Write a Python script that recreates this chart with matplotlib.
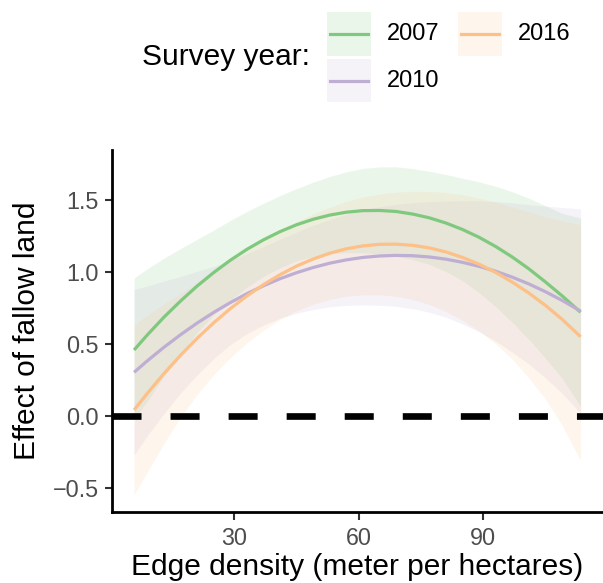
import matplotlib
matplotlib.use("Agg")
import matplotlib.pyplot as plt
from matplotlib.patches import Rectangle
from matplotlib.lines import Line2D

plt.rcParams['font.family'] = ['Liberation Sans', 'DejaVu Sans']
plt.rcParams['lines.scale_dashes'] = False

# edge density grid and predicted effect (fit, lower, upper) per survey year
edge_density = [5.8, 9, 13, 17, 21, 25, 29, 33, 37, 41, 45, 49, 53, 57,
                61, 65, 69, 73, 77, 81, 85, 89, 93, 97, 101, 105, 109, 113.5]

fit_2007 = [0.458, 0.563, 0.686, 0.798, 0.902, 0.996, 1.081, 1.157, 1.223, 1.280,
            1.328, 1.366, 1.395, 1.415, 1.426, 1.427, 1.420, 1.402, 1.376, 1.340,
            1.295, 1.241, 1.177, 1.104, 1.022, 0.931, 0.835, 0.72]
low_2007 = [-0.02, 0.103, 0.276, 0.433, 0.577, 0.701, 0.804, 0.894, 0.969, 1.029,
            1.077, 1.108, 1.127, 1.134, 1.133, 1.124, 1.109, 1.086, 1.053, 1.003,
            0.939, 0.856, 0.759, 0.651, 0.532, 0.401, 0.263, 0.065]
up_2007 = [0.958, 1.023, 1.096, 1.163, 1.227, 1.291, 1.358, 1.420, 1.477, 1.531,
           1.579, 1.624, 1.663, 1.696, 1.719, 1.730, 1.731, 1.718, 1.699, 1.677,
           1.651, 1.626, 1.595, 1.557, 1.512, 1.461, 1.407, 1.375]

fit_2010 = [0.303, 0.383, 0.477, 0.564, 0.645, 0.719, 0.787, 0.849, 0.904, 0.953,
            0.995, 1.031, 1.061, 1.084, 1.101, 1.111, 1.115, 1.113, 1.104, 1.089,
            1.067, 1.039, 1.005, 0.964, 0.917, 0.863, 0.803, 0.728]
low_2010 = [-0.272, -0.137, 0.017, 0.159, 0.285, 0.399, 0.495, 0.571, 0.632, 0.679,
            0.713, 0.739, 0.758, 0.768, 0.771, 0.769, 0.761, 0.745, 0.720, 0.685,
            0.639, 0.584, 0.519, 0.444, 0.360, 0.265, 0.158, 0.018]
up_2010 = [0.878, 0.903, 0.937, 0.969, 1.005, 1.039, 1.079, 1.127, 1.176, 1.227,
           1.277, 1.323, 1.364, 1.400, 1.431, 1.453, 1.469, 1.481, 1.488, 1.493,
           1.495, 1.494, 1.489, 1.480, 1.468, 1.457, 1.448, 1.438]

fit_2016 = [0.042, 0.157, 0.294, 0.421, 0.539, 0.647, 0.745, 0.833, 0.912, 0.981,
            1.041, 1.090, 1.130, 1.161, 1.181, 1.192, 1.193, 1.185, 1.167, 1.139,
            1.101, 1.054, 0.997, 0.930, 0.854, 0.768, 0.672, 0.55]
low_2016 = [-0.548, -0.388, -0.191, -0.009, 0.149, 0.287, 0.405, 0.507, 0.595, 0.670,
            0.731, 0.776, 0.810, 0.832, 0.841, 0.842, 0.831, 0.809, 0.774, 0.726,
            0.665, 0.592, 0.502, 0.395, 0.264, 0.118, -0.063, -0.31]
up_2016 = [0.632, 0.702, 0.779, 0.851, 0.929, 1.007, 1.085, 1.159, 1.229, 1.292,
           1.351, 1.404, 1.450, 1.490, 1.521, 1.542, 1.555, 1.561, 1.560, 1.552,
           1.537, 1.513, 1.484, 1.452, 1.418, 1.385, 1.355, 1.33]

years = ["2007", "2010", "2016"]
colors = ["#7FC97F", "#BEAED4", "#FDC086"]
fits = [fit_2007, fit_2010, fit_2016]
lows = [low_2007, low_2010, low_2016]
ups = [up_2007, up_2010, up_2016]

x_ticks = [30, 60, 90]
y_ticks = [-0.5, 0.0, 0.5, 1.0, 1.5]
y_labels = ["\u22120.5", "0.0", "0.5", "1.0", "1.5"]

W, H = 603, 583
fig = plt.figure(figsize=(W / 100, H / 100), dpi=100)
ax = fig.add_axes([111.7 / W, 1 - 511.7 / H, (W - 111.7) / W, (511.7 - 150) / H])

ribbon_alpha = 0.15
for lo, hi, c in zip(lows, ups, colors):
    ax.fill_between(edge_density, lo, hi, color=c, alpha=ribbon_alpha, lw=0)
for f, c in zip(fits, colors):
    ax.plot(edge_density, f, color=c, lw=2.3, solid_capstyle='butt')

ax.axhline(0, color='black', lw=4.8, dashes=(20.9, 20.9), dash_capstyle='butt')

ax.set_xlim(0.4, 118.9)
ax.set_ylim(-0.665, 1.847)
ax.set_xticks(x_ticks)
ax.set_yticks(y_ticks)
ax.set_yticklabels(y_labels)

for side in ['top', 'right']:
    ax.spines[side].set_visible(False)
for side in ['left', 'bottom']:
    ax.spines[side].set_linewidth(2.0)
    ax.spines[side].set_color('black')
ax.tick_params(length=5.4, width=1.5, color='#333333', labelcolor='#4D4D4D',
               labelsize=16.8)
ax.tick_params(axis='x', pad=5.5)
ax.tick_params(axis='y', pad=4)

fig.text(357.4 / W, 1 - 567 / H, "Edge density (meter per hectares)",
         ha='center', va='center', fontsize=21.5)
fig.text(27 / W, 1 - 330.8 / H, "Effect of fallow land", rotation=90,
         ha='center', va='center', fontsize=21.5)

# legend drawn by hand: shaded key box, line across it, label to the right
key_w, key_h = 44, 43.4
key_pos = [(326.7, 12.3), (326.7, 59.0), (457.7, 12.3)]
for (kx, ky), c, yr in zip(key_pos, colors, years):
    fig.add_artist(Rectangle((kx / W, 1 - (ky + key_h) / H), key_w / W, key_h / H,
                             transform=fig.transFigure, facecolor=c,
                             alpha=ribbon_alpha, lw=0))
    cy = 1 - (ky + key_h / 2) / H
    fig.add_artist(Line2D([(kx + 3.3) / W, (kx + 41) / W], [cy, cy],
                          transform=fig.transFigure, color=c, lw=2.3))
    fig.text((kx + 60) / W, cy, yr, ha='left', va='center', fontsize=17)
fig.text(141.7 / W, 1 - 57.3 / H, "Survey year:", ha='left', va='center',
         fontsize=21.5)

fig.savefig("out.png", dpi=100)
